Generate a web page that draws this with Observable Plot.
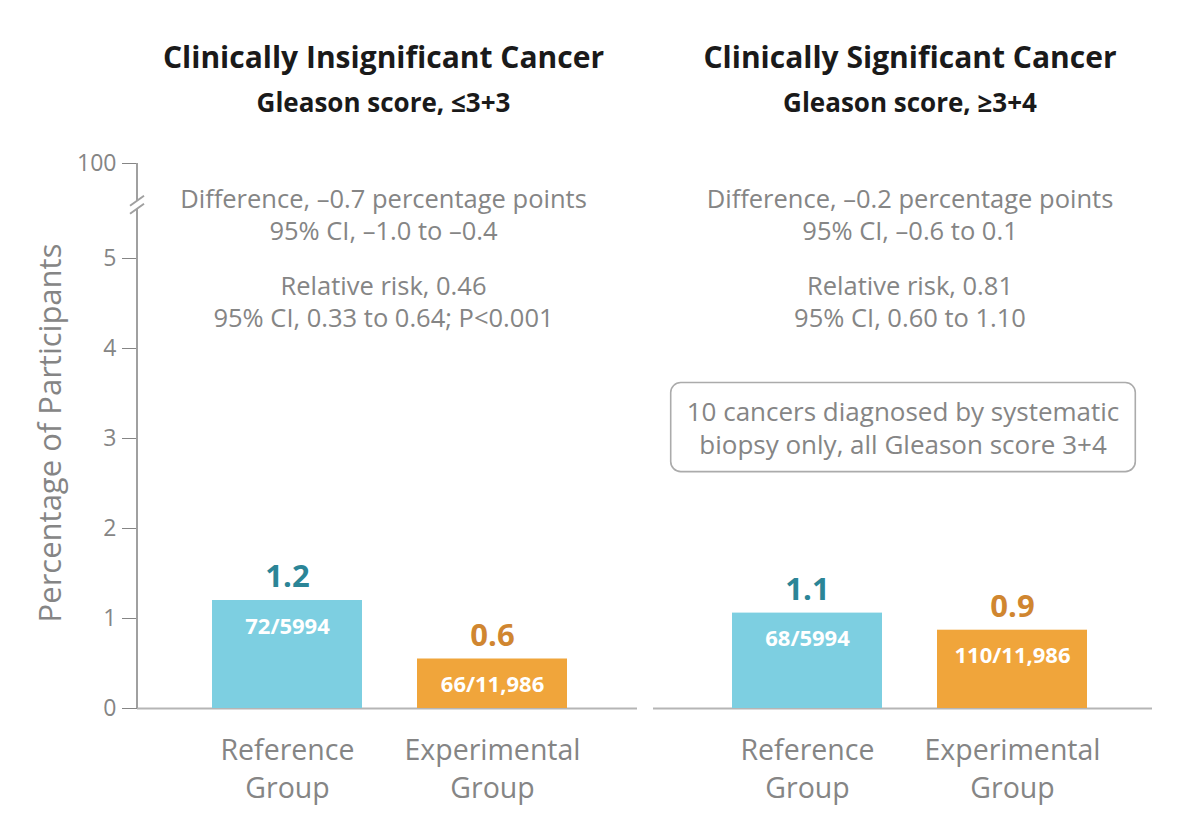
<!DOCTYPE html>
<html><head><meta charset="utf-8">
<script src="https://cdn.jsdelivr.net/npm/d3@7"></script>
<script src="https://cdn.jsdelivr.net/npm/@observablehq/plot@0.6"></script>
<style>
body{margin:0;background:#fff;}
#chart{position:relative;width:1180px;height:820px;overflow:hidden;background:#fff;}
#chart > div{position:absolute;top:0;}
</style></head><body><div id="chart"><div id="left" style="left:0"></div><div id="right" style="left:645px"></div></div>
<script>
// ---- data ----
const panelTitles = ["Clinically Insignificant Cancer", "Clinically Significant Cancer"];
const panelSubtitles = ["Gleason score, ≤3+3", "Gleason score, ≥3+4"];
const differences = ["Difference, –0.7 percentage points", "Difference, –0.2 percentage points"];
const differenceCIs = ["95% CI, –1.0 to –0.4", "95% CI, –0.6 to 0.1"];
const relativeRisks = ["Relative risk, 0.46", "Relative risk, 0.81"];
const relativeRiskCIs = ["95% CI, 0.33 to 0.64; P<0.001", "95% CI, 0.60 to 1.10"];
const groups = ["Reference\nGroup", "Experimental\nGroup"];
const percentages = [[1.2, 0.55], [1.06, 0.87]];
const valueLabels = [["1.2", "0.6"], ["1.1", "0.9"]];
const counts = [["72/5994", "66/11,986"], ["68/5994", "110/11,986"]];
const noteLines = [null, "10 cancers diagnosed by systematic\nbiopsy only, all Gleason score 3+4"];
const yTicks = [0, 1, 2, 3, 4, 5, 100];
const yLabel = "Percentage of Participants";

// ---- styles ----
const FONT = "'Open Sans', Lato, sans-serif";
const GRAY = "#858585";
const AXIS = "#a0a0a0";
const barColors = ["#7dcfe1", "#f0a53b"];
const labelColors = ["#2b8597", "#d08630"];

function panel(p, cfg) {
  const rows = groups.map((g, i) => ({group: g, value: percentages[p][i], label: valueLabels[p][i], count: counts[p][i], bar: barColors[i], ink: labelColors[i]}));
  const marks = [
    Plot.ruleY([0], {stroke: "#b5b5b5", strokeWidth: 2}),
    Plot.barY(rows, {x: "group", y: "value", fill: "bar"}),
    Plot.text(rows, {x: "group", y: "value", text: "label", fill: "ink", fontSize: 31, fontWeight: "bold", lineAnchor: "middle", dy: -23}),
    Plot.text(rows, {x: "group", y: "value", text: "count", fill: "white", fontSize: 22, fontWeight: "bold", lineAnchor: "middle", dy: 26}),
    Plot.text(groups, {x: d => d, text: d => d, frameAnchor: "bottom", lineAnchor: "middle", dy: 58, fontSize: 28.5, fill: GRAY, lineHeight: 1.33}),
    Plot.text([panelTitles[p]], {text: d => d, frameAnchor: "top", lineAnchor: "middle", dy: -105, dx: cfg.dx, fontSize: 30, fontWeight: "bold", fill: "#1a1a1a"}),
    Plot.text([panelSubtitles[p]], {text: d => d, frameAnchor: "top", lineAnchor: "middle", dy: -60, dx: cfg.dx, fontSize: 26, fontWeight: "bold", fill: "#1a1a1a"}),
    Plot.text([differences[p] + "\n" + differenceCIs[p]], {text: d => d, frameAnchor: "top", lineAnchor: "middle", dy: 50, dx: cfg.dx, fontSize: 25.5, fill: GRAY, lineHeight: 1.27}),
    Plot.text([relativeRisks[p] + "\n" + relativeRiskCIs[p]], {text: d => d, frameAnchor: "top", lineAnchor: "middle", dy: 137, dx: cfg.dx, fontSize: 25.5, fill: GRAY, lineHeight: 1.27})
  ];
  if (noteLines[p]) {
    marks.push(Plot.text([noteLines[p]], {text: d => d, frameAnchor: "top", lineAnchor: "middle", dy: 263, fontSize: 26, fill: GRAY, lineHeight: 1.27}));
  }
  if (cfg.axis) {
    marks.push(Plot.axisY({ticks: yTicks, tickSize: 15, tickPadding: 6, fontSize: 23, color: GRAY, label: null}));
    marks.push(Plot.text([yLabel], {text: d => d, frameAnchor: "left", textAnchor: "middle", rotate: -90, dx: -86, dy: -3, fontSize: 31, fill: GRAY}));
  }
  return Plot.plot({
    width: cfg.width,
    height: 820,
    marginLeft: cfg.marginLeft,
    marginRight: cfg.marginRight,
    marginTop: 163,
    marginBottom: 112,
    style: {fontFamily: FONT, background: "white", overflow: "visible"},
    x: {domain: groups, range: cfg.xRange, paddingInner: 55 / 205, paddingOuter: 0, axis: null},
    y: {type: "linear", domain: [0, 5, 100], range: [708, 258, 163], axis: null},
    marks
  });
}

const plotL = panel(0, {width: 645, marginLeft: 137, marginRight: 8, xRange: [212, 567], dx: -4, axis: true});
const plotR = panel(1, {width: 535, marginLeft: 8, marginRight: 28, xRange: [87, 442], dx: 7, axis: false});
document.getElementById("left").appendChild(plotL);
document.getElementById("right").appendChild(plotR);

// y axis line with a scale break between 5 and 100
{
  const y = plotL.scale("y");
  const x0 = 137;
  const yTop = y.apply(100), y5 = y.apply(5), yBot = y.apply(0);
  const c = yTop + 0.44 * (y5 - yTop);
  const g = d3.select(plotL).append("g").attr("stroke", AXIS).attr("stroke-width", 2).attr("fill", "none");
  g.append("path").attr("d", `M${x0},${yTop}V${c - 4}M${x0},${c + 4}V${yBot}`);
  g.append("path").attr("d", `M${x0 - 7},${c + 1}L${x0 + 7},${c - 9}M${x0 - 7},${c + 9}L${x0 + 7},${c - 1}`);
}

// rounded box around the note
{
  const noteText = d3.select(plotR).selectAll("text").filter(function() { return this.textContent.startsWith("10 cancers"); });
  if (!noteText.empty()) {
    const node = noteText.node();
    const b = node.getBBox();
    const host = node.parentNode;
    d3.select(host).insert("rect", () => node)
      .attr("transform", d3.select(node).attr("transform"))
      .attr("x", b.x - 16).attr("y", b.y - 10)
      .attr("width", b.width + 32).attr("height", b.height + 20)
      .attr("rx", 10).attr("fill", "none").attr("stroke", "#ababab").attr("stroke-width", 1.6);
  }
}
</script></body></html>
